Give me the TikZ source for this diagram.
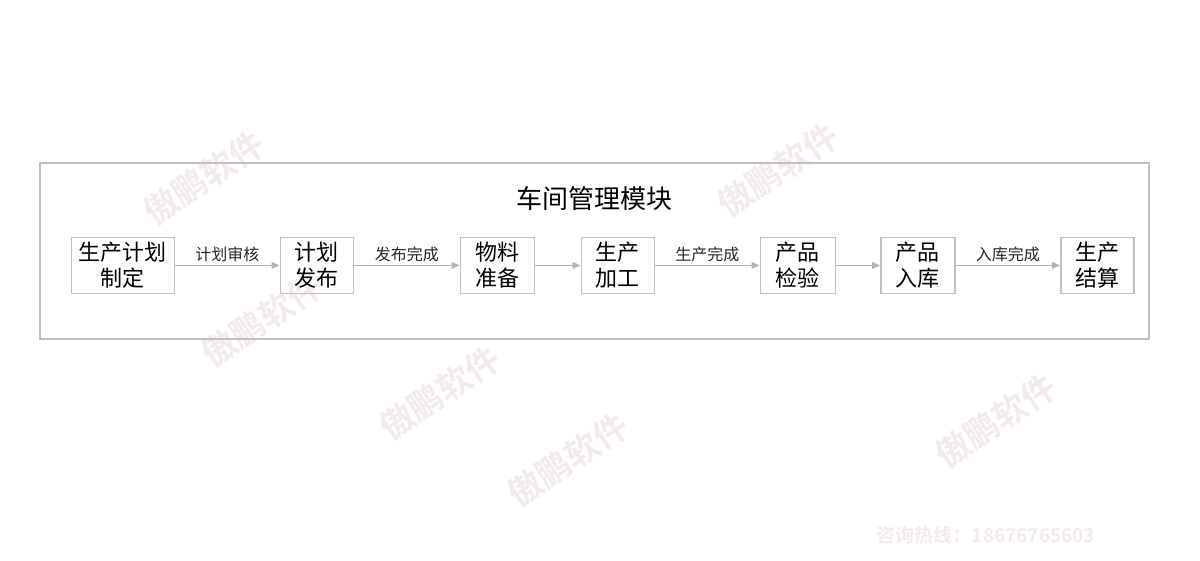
\documentclass[tikz,border=0pt]{standalone}
\usepackage{fontspec}
\setmainfont{Noto Sans CJK SC}
\newfontfamily\cjkb{Noto Sans CJK SC Bold}
\usetikzlibrary{arrows.meta}
\definecolor{bordergray}{HTML}{C0C0C0}
\definecolor{arrowgray}{HTML}{B4B4B4}
\definecolor{wm}{HTML}{F2EAEB}
\tikzset{
  stepbox/.style={draw=bordergray, line width=1.8pt, minimum height=56pt, inner sep=0pt, align=center, font=\fontsize{22}{26}\selectfont, anchor=north west},
  flow/.style={draw=arrowgray, line width=1pt, -{Triangle[length=8pt,width=7pt]}},
  flowlbl/.style={font=\fontsize{16}{18}\selectfont, above=0pt, text=black!85},
  watermark/.style={text=wm, font=\cjkb\fontsize{34}{34}\selectfont, rotate=34}
}
\begin{document}
\begin{tikzpicture}[x=1pt,y=-1pt]
\useasboundingbox (0,0) rectangle (1200,560);
\fill[white] (0,0) rectangle (1200,560);
% watermarks
\node[watermark] (w1) at (204,178) {傲鹏软件};
\node[watermark] (w2) at (778,170) {傲鹏软件};
\node[watermark] (w3) at (262,320) {傲鹏软件};
\node[watermark] (w4) at (440,393) {傲鹏软件};
\node[watermark] (w5) at (568,460) {傲鹏软件};
\node[watermark] (w6) at (996,421) {傲鹏软件};
\node[text=wm, font=\cjkb\fontsize{19}{19}\selectfont] (hot) at (986,535) {咨询热线：18676765603};
% frame
\draw[draw=bordergray, line width=1.5pt] (40,163) rectangle (1149,339);
\node[font=\fontsize{26}{26}\selectfont] (title) at (594,199) {车间管理模块};
% boxes
\node[stepbox, minimum width=103pt] (b1) at (70.5,236.5) {生产计划\\制定};
\node[stepbox, minimum width=73pt] (b2) at (279.5,236.5) {计划\\发布};
\node[stepbox, minimum width=74pt] (b3) at (459.5,236.5) {物料\\准备};
\node[stepbox, minimum width=73pt] (b4) at (580.5,236.5) {生产\\加工};
\node[stepbox, minimum width=75pt] (b5) at (759.5,236.5) {产品\\检验};
\node[stepbox, minimum width=74pt] (b6) at (880,236.5) {产品\\入库};
\node[stepbox, minimum width=73pt] (b7) at (1060,236.5) {生产\\结算};
% arrows
\draw[flow] (b1.east) -- node[flowlbl] {计划审核} (b2.west);
\draw[flow] (b2.east) -- node[flowlbl] {发布完成} (b3.west);
\draw[flow] (b3.east) -- (b4.west);
\draw[flow] (b4.east) -- node[flowlbl] {生产完成} (b5.west);
\draw[flow] (b5.east) -- (b6.west);
\draw[flow] (b6.east) -- node[flowlbl] {入库完成} (b7.west);
\end{tikzpicture}
\end{document}
